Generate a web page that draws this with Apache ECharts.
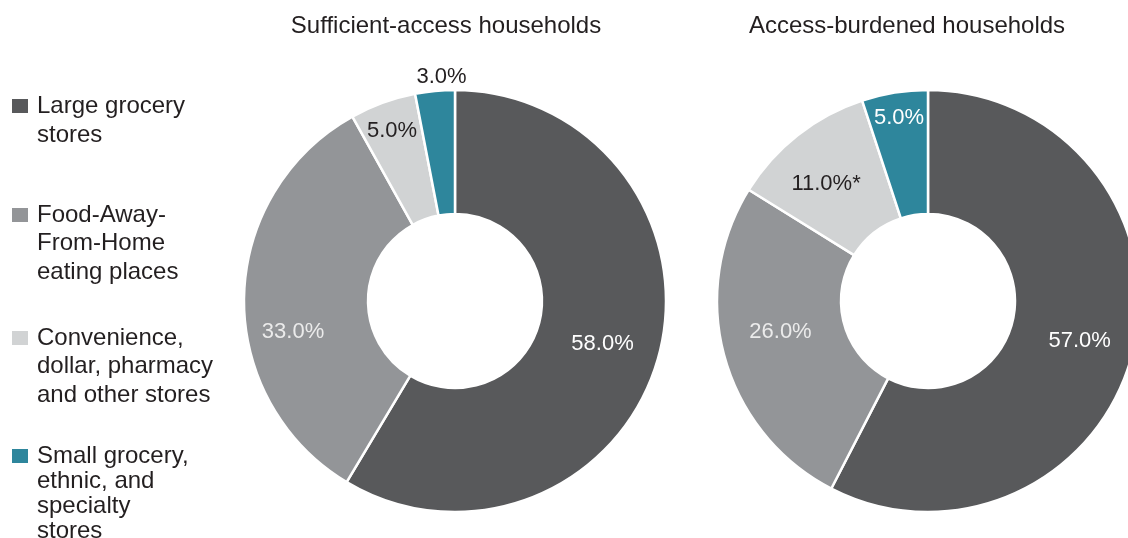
<!DOCTYPE html>
<html><head><meta charset="utf-8">
<script src="https://cdn.jsdelivr.net/npm/echarts@6/dist/echarts.min.js"></script>
<style>html,body{margin:0;padding:0;background:#fff}#c{width:1128px;height:538px}</style>
</head><body><div id="c"></div>
<script>
// ---- data ----
const categories = [
  'Large grocery stores',
  'Food-Away-From-Home eating places',
  'Convenience, dollar, pharmacy and other stores',
  'Small grocery, ethnic, and specialty stores'
];
const legendLines = [
  ['Large grocery', 'stores'],
  ['Food-Away-', 'From-Home', 'eating places'],
  ['Convenience,', 'dollar, pharmacy', 'and other stores'],
  ['Small grocery,', 'ethnic, and', 'specialty', 'stores']
];
const panelTitles = ['Sufficient-access households', 'Access-burdened households'];
const sufficientValues = [58, 33, 5, 3];
const burdenedValues = [57, 26, 11, 5];
const sufficientSignificant = [false, false, false, false];
const burdenedSignificant = [false, false, true, false];

// ---- style ----
const FONT = "'Liberation Sans', Arial, Helvetica, sans-serif";
const TEXT = '#231f20';
const colors = ['#58595b', '#939598', '#d1d3d4', '#2e869c'];
const panels = [
  { center: [455, 301], titleX: 446,
    labelColors: ['#ffffff', '#ebebeb', TEXT, TEXT],
    labelOffsets: [[1, 2], [-10, 33], [-11, -27], [1, -73]] },
  { center: [928, 301], titleX: 907,
    labelColors: ['#ffffff', '#ebebeb', TEXT, '#ffffff'],
    labelOffsets: [[4, 4], [-1, -10], [-8, 2], [-5, -33]] }
];
const legendTops = [94, 203, 326, 444];
const legendLineHeights = [29.5, 28.5, 28.5, 25];

function buildSeries(values, sig, p) {
  return {
    type: 'pie',
    center: p.center,
    radius: [87, 211],
    startAngle: 90,
    clockwise: true,
    avoidLabelOverlap: false,
    silent: true,
    animation: false,
    itemStyle: { borderColor: '#ffffff', borderWidth: 2.5 },
    labelLine: { show: false },
    emphasis: { disabled: true },
    data: values.map((v, i) => ({
      name: categories[i],
      value: v,
      itemStyle: { color: colors[i] },
      label: {
        show: true,
        position: 'inside',
        offset: p.labelOffsets[i],
        color: p.labelColors[i],
        fontFamily: FONT,
        fontSize: 22,
        formatter: () => v.toFixed(1) + '%' + (sig[i] ? '*' : '')
      }
    }))
  };
}

const legends = categories.map((name, i) => {
  const rich = {
    m: { width: 16, height: 14, backgroundColor: colors[i], lineHeight: legendLineHeights[i] },
    s: { width: 9, lineHeight: legendLineHeights[i] },
    p: { width: 25, lineHeight: legendLineHeights[i] },
    t: { fontSize: 24, fontFamily: FONT, color: TEXT, lineHeight: legendLineHeights[i] }
  };
  return {
    orient: 'vertical',
    left: 6,
    top: legendTops[i],
    padding: 0,
    itemWidth: 0,
    itemHeight: 0,
    icon: 'rect',
    selectedMode: false,
    data: [name],
    textStyle: { rich: rich },
    formatter: () => legendLines[i].map((ln, k) =>
      (k === 0 ? '{m|}{s|}' : '{p|}') + '{t|' + ln + '}').join('\n')
  };
});

const option = {
  backgroundColor: '#ffffff',
  animation: false,
  title: panelTitles.map((t, i) => ({
    text: t,
    left: panels[i].titleX,
    top: 14,
    padding: 0,
    textAlign: 'center',
    textStyle: { fontFamily: FONT, fontSize: 24, fontWeight: 'normal', color: TEXT }
  })),
  legend: legends,
  series: [
    buildSeries(sufficientValues, sufficientSignificant, panels[0]),
    buildSeries(burdenedValues, burdenedSignificant, panels[1])
  ]
};

const chart = echarts.init(document.getElementById('c'), null, { renderer: 'canvas' });
chart.setOption(option);
</script>
</body></html>
